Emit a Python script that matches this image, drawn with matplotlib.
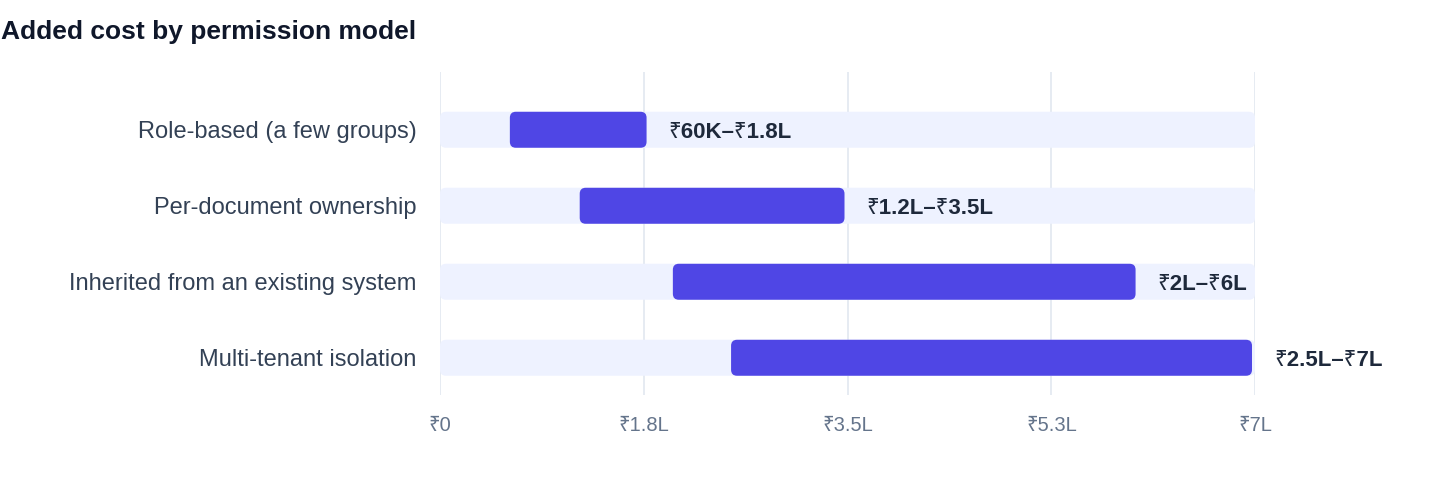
import matplotlib.pyplot as plt
from matplotlib.patches import FancyBboxPatch
from matplotlib.ticker import FixedLocator, FixedFormatter

plt.rcParams['font.family'] = ['Liberation Sans', 'Noto Sans', 'DejaVu Sans']

# datos (en lakhs de rupias)
categorias = ['Role-based (a few groups)', 'Per-document ownership',
              'Inherited from an existing system', 'Multi-tenant isolation']
minimos = [0.6, 1.2, 2.0, 2.5]
maximos = [1.8, 3.5, 6.0, 7.0]
etiquetas = ['₹60K–₹1.8L', '₹1.2L–₹3.5L', '₹2L–₹6L', '₹2.5L–₹7L']
ticks = [0, 1.75, 3.5, 5.25, 7]
ticks_txt = ['₹0', '₹1.8L', '₹3.5L', '₹5.3L', '₹7L']
xmax = 7

W, H = 1440, 484
fig = plt.figure(figsize=(W / 100, H / 100), dpi=100)
x0, x1 = 440, 1255
y_top, y_bot = 72, 395
ax = fig.add_axes([x0 / W, 1 - y_bot / H, (x1 - x0) / W, (y_bot - y_top) / H])

ax.set_xlim(0, xmax)
ax.set_ylim(3.49, -0.76)

# aspecto para esquinas redondeadas
px_x = xmax / (x1 - x0)
px_y = 1 / 76
aspecto = px_y / px_x
radio = 6 * px_x
alto = 36 / 76

for i in range(len(categorias)):
    fondo = FancyBboxPatch((0, i - alto / 2), xmax, alto,
                           boxstyle=f"round,pad=0,rounding_size={radio}",
                           mutation_aspect=aspecto, fc='#EEF2FF', ec='none', zorder=2)
    ax.add_patch(fondo)
    barra = FancyBboxPatch((minimos[i], i - alto / 2), maximos[i] - minimos[i] - 3 * px_x, alto,
                           boxstyle=f"round,pad=0,rounding_size={radio}",
                           mutation_aspect=aspecto, fc='#4F46E5', ec='none', zorder=3)
    ax.add_patch(barra)
    ax.text(maximos[i] + 19 * px_x, i, etiquetas[i], va='center_baseline', ha='left',
            fontsize=16, fontweight='bold', color='#1E293B', zorder=4)

for t in ticks:
    ax.axvline(t, color='#E2E8F0', lw=1.2, zorder=1)

ax.set_yticks(range(len(categorias)))
ax.set_yticklabels(categorias, fontsize=17, color='#334155')
ax.xaxis.set_major_locator(FixedLocator(ticks))
ax.xaxis.set_major_formatter(FixedFormatter(ticks_txt))
ax.tick_params(axis='x', labelsize=14.5, colors='#64748B', length=0, pad=15)
ax.tick_params(axis='y', length=0, pad=17)
for s in ax.spines.values():
    s.set_visible(False)

fig.text(1 / W, 1 - 32 / H, 'Added cost by permission model', fontsize=19,
         fontweight='bold', color='#0F172A', va='center', ha='left')

fig.savefig('out.png', dpi=100)
